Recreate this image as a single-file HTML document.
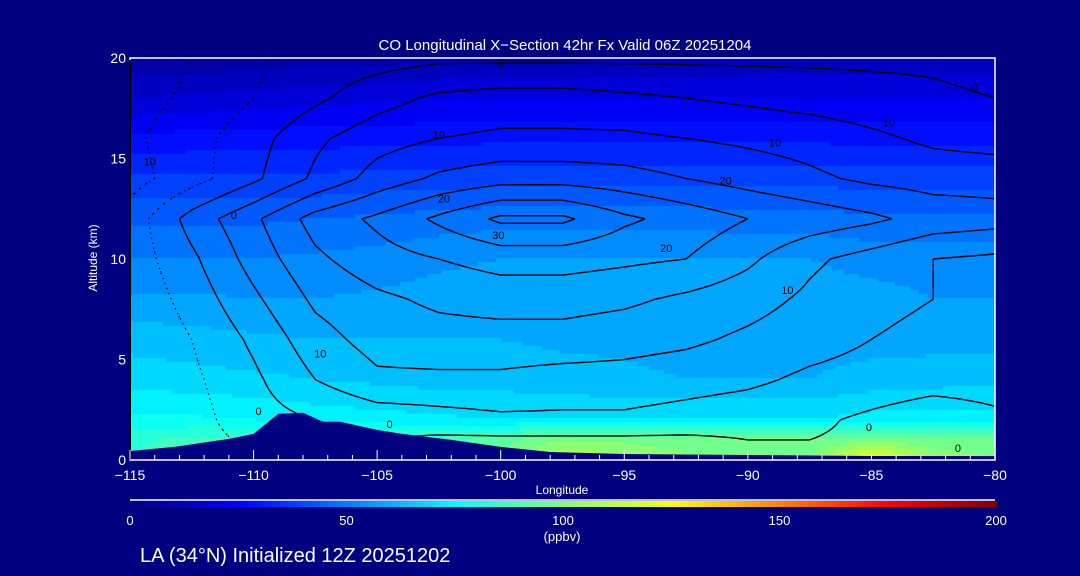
<!DOCTYPE html>
<html><head><meta charset="utf-8"><style>
html,body{margin:0;padding:0;background:#000080;}
svg{display:block;}
text{font-family:"Liberation Sans",sans-serif;}
</style></head><body>
<svg id="chart" width="1080" height="576" viewBox="0 0 1080 576" xmlns="http://www.w3.org/2000/svg">
<rect x="0" y="0" width="1080" height="576" fill="#000080"/>
<text x="565" y="50" fill="#fff" font-size="15" text-anchor="middle">CO Longitudinal X−Section 42hr  Fx Valid 06Z 20251204</text>
<g id="field"></g>
<g id="contours"></g>
<g id="labels"></g>
<g id="terrain"></g>
<g id="axes"></g>
<text x="562" y="494" fill="#fff" font-size="12" text-anchor="middle">Longitude</text>
<text x="0" y="0" fill="#fff" font-size="12" text-anchor="middle" transform="translate(97,258) rotate(-90)">Altitude (km)</text>
<g id="colorbar"></g>
<text x="562" y="541" fill="#fff" font-size="13" text-anchor="middle">(ppbv)</text>
<text x="140" y="562" fill="#fff" font-size="20">LA (34°N) Initialized 12Z 20251202</text>
</svg>
<script>
const lons = [-115,-112.5,-110,-107.5,-105,-102.5,-100,-97.5,-95,-92.5,-90,-87.5,-85,-82.5,-80];
const alts = [0,1,2,4,6,8,10,12,14,16,18,20];
const coValues = [
 [85,88,90,92,92,95,100,110,108,102,98,100,125,105,100],
 [84,86,87,88,87,88,92,100,98,96,95,95,97,96,96],
 [76,76,75,73,72,71,70,70,70,70,70,70,72,72,72],
 [68,67,66,65,64,63,63,62,61,60,60,60,62,63,64],
 [63,62,61,60,60,60,60,59,59,58,58,58,58,58,58],
 [56,56,55,55,56,57,58,58,58,58,58,58,57,55,55],
 [50,50,50,51,52,54,55,55,55,55,55,55,53,53,53],
 [44,44,44,45,46,47,48,48,48,48,47,47,46,46,46],
 [36,36,36,36,37,37,38,38,38,38,38,38,38,38,38],
 [26,27,27,28,28,28,29,29,29,29,29,29,28,28,28],
 [15,16,17,18,19,20,20,20,20,20,20,20,20,20,20],
 [6,6,7,8,8,9,9,9,10,10,11,12,12,12,12]
];
const anomValues = [
 [-8,-7,-5,-3,-2,-4,-6,-6,-6,-5,-3,-2,0,-2,0],
 [-9,-7,-4,-2,0,-1,-1,-1,-1,-1,0,0,-1,-3,-1],
 [-10,-7,-2,0,2,3,4,4,4,3,2,1,-1,-3,-1],
 [-10,-6,-1,5,9,9,9,8,8,7,6,4,3,2,2],
 [-10,-5,1,8,12,13,13,13,12,11,9,7,5,4,4],
 [-9,-3,4,11,14,16,17,17,16,14,12,9,6,5,4],
 [-8,-1,7,14,18,20,22,22,21,20,16,11,8,5,4],
 [-8,2,9,17,21,26,31,31,26,23,20,18,16,13,12],
 [-12,-7,-1,6,12,16,18,18,17,15,13,11,9,8,8],
 [-11,-7,-2,4,8,10,11,11,11,10,9,8,6,4,3],
 [-12,-9,-5,-1,3,6,7,7,6,5,4,3,2,1,0],
 [-14,-10,-6,-3,-2,-1,-1,-1,-1,-1,-1,-1,-1,-1,-2]
];
const contourLevels = [-10,-5,0,5,10,15,20,25,30];
const terrainLon = [-115,-113.2,-111,-110,-109,-108,-107.2,-106.5,-105,-104,-102,-100,-98,-95,-90,-85,-80];
const terrainAlt = [0.45,0.65,1.05,1.3,2.3,2.35,1.9,1.9,1.5,1.3,1.0,0.65,0.4,0.3,0.25,0.2,0.2];
const labelLon = [-100,-80.8,-102.5,-88.9,-84.3,-102.3,-90.9,-100.1,-93.3,-88.4,-107.3,-110.8,-109.8,-104.5,-85.1,-81.5,-114.2];
const labelAlt = [19.75,18.55,16.2,15.8,16.8,13.0,13.9,11.2,10.55,8.45,5.3,12.2,2.45,1.8,1.65,0.6,14.85];
const labelText = ["0","0","10","10","10","20","20","30","20","10","10","0","0","0","0","0","10"];
const xTicks = [-115,-110,-105,-100,-95,-90,-85,-80];
const yTicks = [0,5,10,15,20];
const cbTicks = [0,50,100,150,200];

const NS="http://www.w3.org/2000/svg";
const X0=130,X1=995,Y0=460,Y1=58;
const xS = lon => X0+(lon+115)/35*(X1-X0);
const yS = a => Y0-(a/20)*(Y0-Y1);
const lonOf = x => -115+(x-X0)/(X1-X0)*35;
const altOf = y => (Y0-y)/(Y0-Y1)*20;
function el(tag,attrs,parent){const e=document.createElementNS(NS,tag);for(const k in attrs)e.setAttribute(k,attrs[k]);parent.appendChild(e);return e;}
function interp(f,lon,alt){
  let fi=(lon-lons[0])/2.5; fi=Math.max(0,Math.min(lons.length-1.0001,fi));
  const i=Math.floor(fi),tx=fi-i;
  alt=Math.max(0,Math.min(19.9999,alt));
  let j=0; while(j<alts.length-2 && alt>alts[j+1]) j++;
  const ty=(alt-alts[j])/(alts[j+1]-alts[j]);
  const a=f[j][i],b=f[j][i+1],c=f[j+1][i],d=f[j+1][i+1];
  return (a*(1-tx)+b*tx)*(1-ty)+(c*(1-tx)+d*tx)*ty;
}
function jet(t){t=Math.max(0,Math.min(1,t));const cl=v=>Math.round(255*Math.max(0,Math.min(1,v)));
  return `rgb(${cl(1.5-Math.abs(4*t-3))},${cl(1.5-Math.abs(4*t-2))},${cl(1.5-Math.abs(4*t-1))})`;}

// heatmap
const field=document.getElementById('field');
const CW=3,CH=4;
function cell(x0,x1,y,color){
  const r=el('rect',{x:x0,y:y,width:x1-x0+0.5,height:Math.min(CH,Y0-y)+0.5,fill:color},field);
  
  
}
for(let y=Y1;y<Y0;y+=CH){
  let runStart=X0,runColor=null;
  for(let x=X0;x<X1;x+=CW){
    const v=interp(coValues,lonOf(x+CW/2),altOf(y+CH/2));
    const col=jet((Math.floor(v/5)*5+2.5)/200);
    if(col!==runColor){
      if(runColor!==null) cell(runStart,x,y,runColor);
      runStart=x;runColor=col;
    }
  }
  if(runColor!==null) cell(runStart,X1,y,runColor);
}

// contours (marching squares)
const cg=document.getElementById('contours');
const dLon=0.25,dAlt=0.25,nx=141,ny=81;
const grid=[];for(let j=0;j<ny;j++){grid.push([]);for(let i=0;i<nx;i++)grid[j].push(interp(anomValues,-115+i*dLon,j*dAlt));}
contourLevels.forEach(lv=>{
  let d='';
  const P=(i,j)=>[xS(-115+i*dLon),yS(j*dAlt)];
  const lerp=(p,q,va,vb)=>{const t=(lv-va)/(vb-va);return [p[0]+(q[0]-p[0])*t,p[1]+(q[1]-p[1])*t];};
  for(let j=0;j<ny-1;j++)for(let i=0;i<nx-1;i++){
    const v=[grid[j][i],grid[j][i+1],grid[j+1][i+1],grid[j+1][i]];
    const p=[P(i,j),P(i+1,j),P(i+1,j+1),P(i,j+1)];
    const pts=[];
    for(let k=0;k<4;k++){const a=v[k],b=v[(k+1)%4];if((a<lv)!==(b<lv))pts.push(lerp(p[k],p[(k+1)%4],a,b));}
    for(let k=0;k+1<pts.length;k+=2)d+=`M${pts[k][0].toFixed(1)},${pts[k][1].toFixed(1)}L${pts[k+1][0].toFixed(1)},${pts[k+1][1].toFixed(1)}`;
  }
  const path=el('path',{d:d,stroke:'#000',fill:'none','stroke-width':lv<0?1.3:1.4,'stroke-dasharray':lv<0?'1.3 4':'none'},cg);
  
  
});
const lg=document.getElementById('labels');
labelText.forEach((t,k)=>{
  const tx=el('text',{x:xS(labelLon[k]),y:yS(labelAlt[k])+4,'font-size':11,fill:'#000','text-anchor':'middle'},lg);
  tx.textContent=t;
  
  
});

// terrain
let td=`M${xS(terrainLon[0])},${Y0+1}`;
terrainLon.forEach((l,k)=>{td+=`L${xS(l).toFixed(1)},${yS(terrainAlt[k]).toFixed(1)}`;});
td+=`L${xS(terrainLon[terrainLon.length-1])},${Y0+1}Z`;
const tp=el('path',{d:td,fill:'#000080'},document.getElementById('terrain'));



// axes
const ax=document.getElementById('axes');
const fr=el('rect',{x:X0,y:Y1,width:X1-X0,height:Y0-Y1,fill:'none',stroke:'#fff','stroke-width':1.5},ax);


const la=el('line',{x1:X0,y1:Y1+2,x2:X0,y2:Y0,stroke:'#000','stroke-width':2},ax);


for(let l=-115;l<=-80;l++){
  const major=(l%5===0);
  const tk=el('line',{x1:xS(l),x2:xS(l),y1:Y0,y2:Y0-(major?10:5),stroke:'#fff','stroke-width':1},ax);
  
  
}
xTicks.forEach(l=>{
  const t=el('text',{x:xS(l),y:Y0+20,fill:'#fff','font-size':14,'text-anchor':'middle'},ax);
  t.textContent=(l<0?'−':'')+Math.abs(l);
  
  
});
yTicks.forEach(a=>{
  const t=el('text',{x:X0-4,y:yS(a)+5,fill:'#fff','font-size':14,'text-anchor':'end'},ax);
  t.textContent=a;
  
  
});

// colorbar
const cb=document.getElementById('colorbar');
const cbl=el('line',{x1:130,x2:995,y1:500,y2:500,stroke:'#fff','stroke-width':1.5},cb);


for(let x=130;x<997;x+=3){
  const r=el('rect',{x:x,y:501,width:3.3,height:6,fill:jet((x-130)/867)},cb);
  
  
}
cbTicks.forEach(v=>{
  const t=el('text',{x:130+v/200*866,y:525,fill:'#fff','font-size':13,'text-anchor':'middle'},cb);
  t.textContent=v;
  
  
});
</script>
</body></html>
